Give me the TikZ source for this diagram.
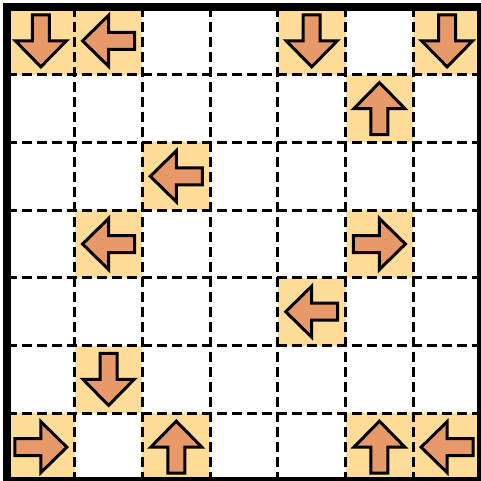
\documentclass[tikz,border=0pt]{standalone}
\definecolor{cellyellow}{HTML}{FFDC98}
\definecolor{arroworange}{HTML}{E8996A}
\tikzset{
  cellfill/.style={fill=cellyellow},
  arrowshape/.style={fill=arroworange, draw=black, line width=3pt, line join=miter},
  gridline/.style={draw=black, line width=3pt, dash pattern=on 10pt off 5pt},
  frameline/.style={draw=black, line width=8pt}
}
\def\cs{67.714}
\newcommand\ycell[2]{\fill[cellfill] ({7+#1*\cs},{7+#2*\cs}) rectangle ++(\cs,\cs);}
\newcommand\garrow[3]{\draw[arrowshape, shift={({7+(#1+0.5)*\cs},{7+(#2+0.5)*\cs})}, rotate=#3]
  (-26,-8.5) -- (0,-8.5) -- (0,-25.5) -- (26,0) -- (0,25.5) -- (0,8.5) -- (-26,8.5) -- cycle;}
\begin{document}
\begin{tikzpicture}[x=1pt,y=-1pt]
\useasboundingbox (0,0) rectangle (481,481);
\fill[white] (0,0) rectangle (481,481);
% yellow cells
\foreach \c/\r in {0/0,1/0,4/0,6/0,5/1,2/2,1/3,5/3,4/4,1/5,0/6,2/6,5/6,6/6}{\ycell{\c}{\r}}
% dashed grid
\foreach \k in {1,...,6}{
  \draw[gridline] ({7+\k*\cs},7) -- ({7+\k*\cs},481);
  \draw[gridline] (7,{7+\k*\cs}) -- (481,{7+\k*\cs});
}
% arrows: 0 right, 90 up, 180 left, 270 down
\garrow{0}{0}{270}
\garrow{1}{0}{180}
\garrow{4}{0}{270}
\garrow{6}{0}{270}
\garrow{5}{1}{90}
\garrow{2}{2}{180}
\garrow{1}{3}{180}
\garrow{5}{3}{0}
\garrow{4}{4}{180}
\garrow{1}{5}{270}
\garrow{0}{6}{0}
\garrow{2}{6}{90}
\garrow{5}{6}{90}
\garrow{6}{6}{180}
% frame
\draw[frameline] (7,7) rectangle (481,481);
\end{tikzpicture}
\end{document}
